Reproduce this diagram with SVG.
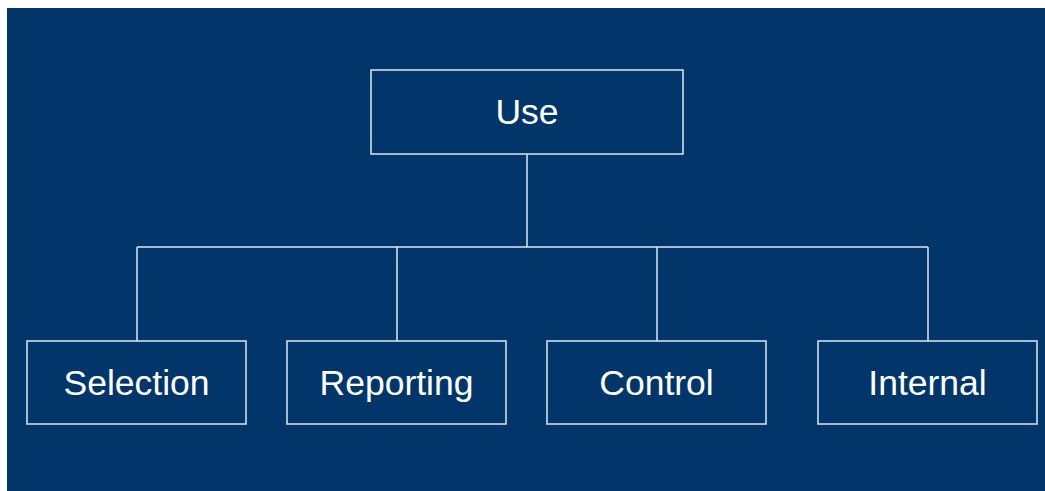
<svg xmlns="http://www.w3.org/2000/svg" width="1045" height="491" viewBox="0 0 1045 491">
<style>
.box{fill:none;stroke:#dfe6ef;stroke-width:1.5}
.lbl{font-family:"Liberation Sans",Arial,sans-serif;font-size:35.5px;fill:#ffffff;text-anchor:middle}
.conn{fill:none;stroke:#dfe6ef;stroke-width:1.5}
</style>
<rect x="0" y="0" width="1045" height="491" fill="#ffffff"/>
<rect x="7" y="8" width="1038" height="483" fill="#02366b"/>
<g id="connectors">
<path class="conn" d="M527 154V247M137 247H928M137 247V341M397 247V341M657 247V341M928 247V341"/>
</g>
<g id="use"><rect class="box" x="371" y="70" width="312" height="84"/><text class="lbl" x="527" y="124">Use</text></g>
<g id="selection"><rect class="box" x="27" y="341" width="219" height="83"/><text class="lbl" x="136.5" y="394.5">Selection</text></g>
<g id="reporting"><rect class="box" x="287" y="341" width="219" height="83"/><text class="lbl" x="396.5" y="394.5">Reporting</text></g>
<g id="control"><rect class="box" x="547" y="341" width="219" height="83"/><text class="lbl" x="656.5" y="394.5">Control</text></g>
<g id="internal"><rect class="box" x="818" y="341" width="219" height="83"/><text class="lbl" x="927.5" y="394.5">Internal</text></g>
</svg>
